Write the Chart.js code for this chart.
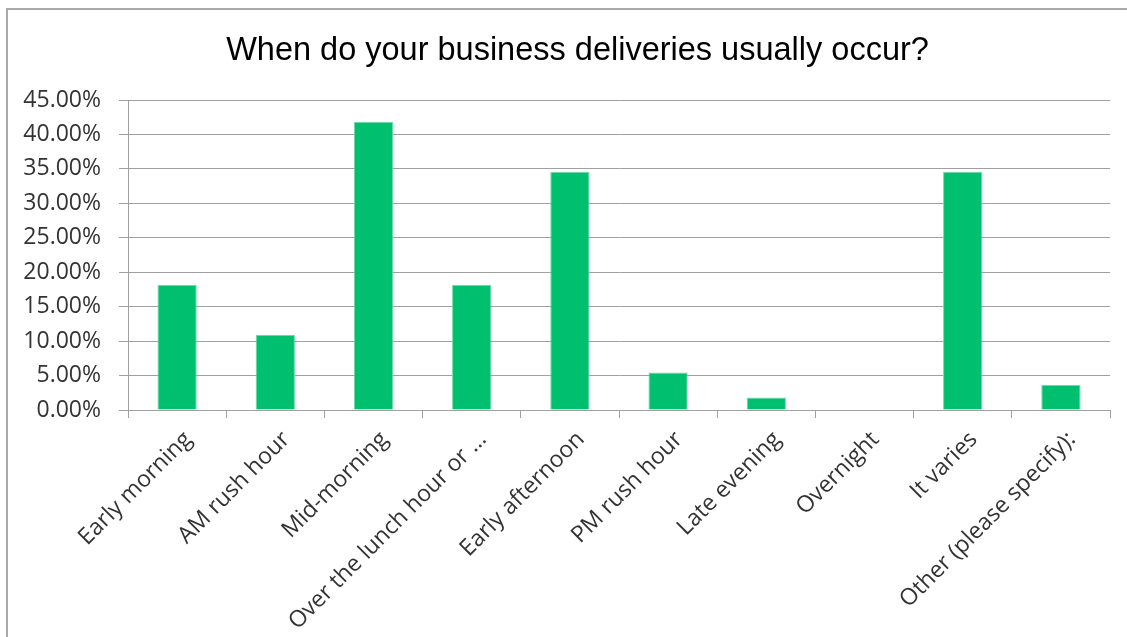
<!DOCTYPE html>
<html>
<head>
<meta charset="utf-8">
<script src="https://cdn.jsdelivr.net/npm/chart.js@4"></script>
<style>
  html, body { margin: 0; padding: 0; background: #ffffff; }
  #wrap { width: 1127px; height: 637px; position: relative; }
</style>
</head>
<body>
<div id="wrap"><canvas id="c" width="1127" height="637"></canvas></div>
<script>
const titleText = "When do your business deliveries usually occur?";
const categories = [
  "Early morning", "AM rush hour", "Mid-morning", "Over the lunch hour or \u2026",
  "Early afternoon", "PM rush hour", "Late evening", "Overnight", "It varies",
  "Other (please specify):"
];
const shares = [18.18, 10.91, 41.82, 18.18, 34.55, 5.45, 1.82, 0, 34.55, 3.64];
const yTicks = [0, 5, 10, 15, 20, 25, 30, 35, 40, 45];

const frame = {
  id: 'frame',
  beforeDraw(chart) {
    const ctx = chart.ctx;
    ctx.save();
    ctx.fillStyle = '#ffffff';
    ctx.fillRect(0, 0, chart.width, chart.height);
    ctx.strokeStyle = '#a9a9a9';
    ctx.lineWidth = 2;
    ctx.strokeRect(7, 9, 1160, 700);
    ctx.restore();
  }
};

// shift the title's box so that it is centred where the reference centres it
const titleShift = {
  id: 'titleShift',
  afterLayout(chart) {
    const t = chart.titleBlock;
    if (t) { t.left += 37; t.width = t.right - t.left; }
  }
};

new Chart(document.getElementById('c'), {
  type: 'bar',
  data: {
    labels: categories,
    datasets: [{
      data: shares,
      backgroundColor: '#00bf6f',
      borderColor: '#6fd9a9',
      borderWidth: 1,
      categoryPercentage: 1.0,
      barPercentage: 0.4
    }]
  },
  options: {
    responsive: false,
    animation: false,
    devicePixelRatio: 1,
    layout: { padding: { left: 8, right: 17, top: 0, bottom: 0 } },
    plugins: {
      legend: { display: false },
      tooltip: { enabled: false },
      title: {
        display: true,
        text: titleText,
        color: '#000000',
        font: { family: '"Liberation Sans", Arial, sans-serif', size: 32.5, weight: 'normal', lineHeight: 1.2 },
        padding: { top: 31.3, bottom: 29.7 }
      }
    },
    scales: {
      y: {
        min: 0,
        max: 45,
        afterBuildTicks(scale) { scale.ticks = yTicks.map(v => ({ value: v })); },
        afterFit(scale) { scale.width = 120; },
        border: { display: true, color: '#a0a0a0', width: 1 },
        grid: { color: '#a0a0a0', lineWidth: 1, tickLength: 9, drawTicks: true },
        ticks: {
          color: '#333333',
          padding: 18,
          font: { family: '"Open Sans", sans-serif', size: 23 },
          callback: v => v.toFixed(2) + '%'
        }
      },
      x: {
        afterFit(scale) { scale.height = 227; },
        border: { display: true, color: '#a0a0a0', width: 1 },
        grid: { display: true, drawOnChartArea: false, drawTicks: true, tickLength: 8, color: '#a0a0a0', offset: true },
        ticks: {
          color: '#333333',
          autoSkip: false,
          minRotation: 45,
          maxRotation: 45,
          padding: 8,
          labelOffset: 11,
          font: { family: '"Open Sans", sans-serif', size: 23 }
        }
      }
    }
  },
  plugins: [frame, titleShift]
});
</script>
</body>
</html>
